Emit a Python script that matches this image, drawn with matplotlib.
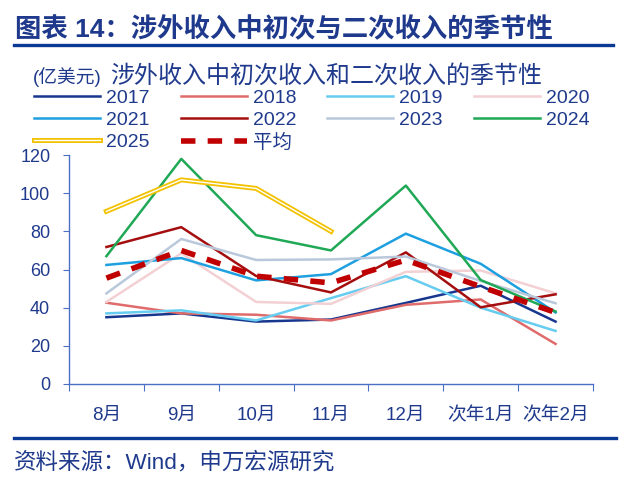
import matplotlib
matplotlib.use('Agg')
import matplotlib.pyplot as plt
import matplotlib.patheffects as pe
from matplotlib.lines import Line2D

plt.rcParams['font.family'] = ['Liberation Sans', 'Noto Sans CJK SC']

NAVY = '#1F3A8C'
AXC = '#4A6FC4'

# data
months = ['8月', '9月', '10月', '11月', '12月', '次年1月', '次年2月']
y2017 = [35, 37, 32.7, 33.8, 42.5, 51.5, 32.7]
y2018 = [42.6, 37, 36.3, 33.3, 41.5, 44.3, 21]
y2019 = [37, 38.6, 33.3, 45, 56.5, 40, 27.8]
y2020 = [43, 68.5, 43, 42, 58.8, 59.5, 47.5]
y2021 = [62.4, 66, 54.3, 57.6, 78.8, 63, 37.5]
y2022 = [71.8, 82.2, 56.6, 48, 69, 40.2, 47]
y2023 = [47.5, 76, 65, 65.3, 66.8, 54, 42.3]
y2024 = [67, 118, 78, 70, 104, 54.5, 38]
y2025 = [90.5, 107, 102.5, 80]
avg = [55.5, 70, 56.5, 53, 65, 51, 37.5]

series = [
    ('2017', y2017, '#17378F'),
    ('2018', y2018, '#E06B6B'),
    ('2019', y2019, '#66CCF0'),
    ('2020', y2020, '#F2D0D4'),
    ('2021', y2021, '#1EA0E0'),
    ('2022', y2022, '#A50E0E'),
    ('2023', y2023, '#B9C8DA'),
    ('2024', y2024, '#1FA855'),
]

fig = plt.figure(figsize=(6.3, 4.8), dpi=100)
ax = fig.add_axes([69/630, 0.2, 524/630, 0.477])

handles = {}
for name, vals, col in series:
    l, = ax.plot(range(len(vals)), vals, color=col, lw=1.8, label=name)
    handles[name] = l

l25, = ax.plot(range(len(y2025)), y2025, color='white', lw=1.0, label='2025',
               path_effects=[pe.Stroke(linewidth=3.6, foreground='#F2C200'), pe.Normal()])
handles['2025'] = l25
lavg, = ax.plot(range(len(avg)), avg, color='#C00000', lw=4, dashes=(2.6, 2.2), label='平均')
handles['平均'] = lavg

ax.set_xlim(-0.5, 6.5)
ax.set_ylim(0, 120)
ax.set_yticks(range(0, 121, 20))
ax.set_xticks([i - 0.5 for i in range(8)])
ax.set_xticklabels([])
ax.set_xticks(range(7), minor=True)
ax.set_xticklabels(months, minor=True)
ax.tick_params(axis='x', which='major', length=5, color=AXC, direction='out')
ax.tick_params(axis='x', which='minor', length=0, pad=16.5, labelsize=13.5, labelcolor=NAVY)
ax.tick_params(axis='y', length=4, color=AXC, pad=9.5, labelsize=13, labelcolor=NAVY)
for s in ['top', 'right']:
    ax.spines[s].set_visible(False)
for s in ['left', 'bottom']:
    ax.spines[s].set_color(AXC)
    ax.spines[s].set_linewidth(1.0)

order = ['2017', '2021', '2025', '2018', '2022', '平均', '2019', '2023', '2020', '2024']
leg = fig.legend([handles[k] for k in order], order, ncol=4, frameon=False,
                 loc='upper left', bbox_to_anchor=(34/630, 1 - 89/480),
                 fontsize=14, handlelength=3.4, handletextpad=0.3,
                 columnspacing=1.6, labelspacing=0.24, borderpad=0, borderaxespad=0)
for t in leg.get_texts():
    t.set_color(NAVY)

# title and notes
fig.text(15/630, 1 - 29/480, '图表 14：涉外收入中初次与二次收入的季节性', fontsize=19,
         weight='bold', color=NAVY, va='center')
fig.add_artist(Line2D([14/630, 613/630], [1 - 45/480, 1 - 45/480], color='#0B3A94', lw=2.4))
fig.text(33/630, 1 - 77/480, '(亿美元)', fontsize=13.5, color=NAVY, va='center')
fig.text(110/630, 1 - 76/480, '涉外收入中初次收入和二次收入的季节性', fontsize=17.3,
         color=NAVY, va='center')
fig.add_artist(Line2D([14/630, 616/630], [1 - 438/480, 1 - 438/480], color='#0B3A94', lw=2.4))
fig.text(14/630, 1 - 463/480, '资料来源：Wind，申万宏源研究', fontsize=16.2, color=NAVY, va='center')

fig.savefig('out.png', dpi=100)
